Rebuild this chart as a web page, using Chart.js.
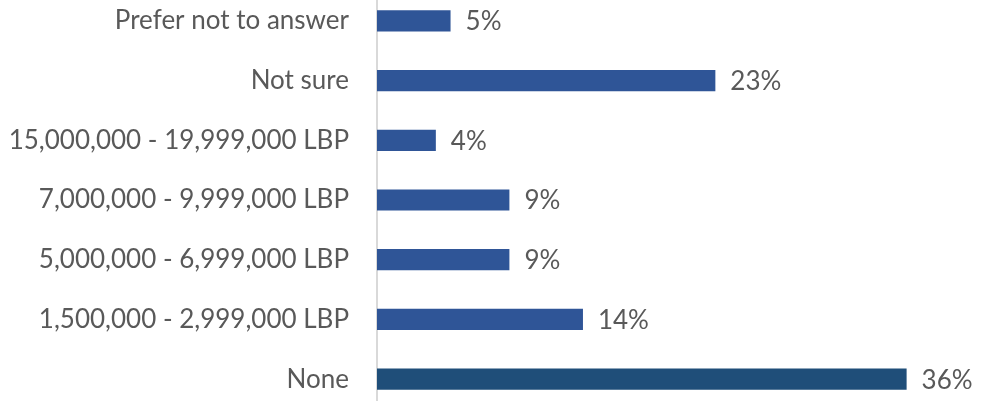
<!DOCTYPE html>
<html>
<head>
<meta charset="utf-8">
<script src="https://cdn.jsdelivr.net/npm/chart.js@4.4.0/dist/chart.umd.min.js"></script>
<style>
  html, body { margin: 0; padding: 0; background: #ffffff; overflow: hidden; width: 989px; height: 401px; }
  #c { position: absolute; left: 0; top: -9px; }
</style>
</head>
<body>
<canvas id="c" width="989" height="418" style="width:989px;height:418px"></canvas>
<script>
const categories = [
  "Prefer not to answer",
  "Not sure",
  "15,000,000 - 19,999,000 LBP",
  "7,000,000 - 9,999,000 LBP",
  "5,000,000 - 6,999,000 LBP",
  "1,500,000 - 2,999,000 LBP",
  "None"
];
const values = [5, 23, 4, 9, 9, 14, 36];
const barColors = ["#2F5597", "#2F5597", "#2F5597", "#2F5597", "#2F5597", "#2F5597", "#1F4E79"];

const FONT = "Lato, 'Open Sans', sans-serif";
const TEXT = "#595959";

const valueLabels = {
  id: "valueLabels",
  afterDatasetsDraw(chart) {
    const ctx = chart.ctx;
    const meta = chart.getDatasetMeta(0);
    ctx.save();
    ctx.font = "26px " + FONT;
    ctx.fillStyle = TEXT;
    ctx.textAlign = "left";
    ctx.textBaseline = "middle";
    meta.data.forEach((bar, i) => {
      ctx.fillText(values[i] + "%", bar.x + 15, bar.y + 1);
    });
    ctx.restore();
  }
};

new Chart(document.getElementById("c"), {
  type: "bar",
  data: {
    labels: categories,
    datasets: [{
      data: values,
      backgroundColor: barColors,
      borderWidth: 0,
      barPercentage: 0.355,
      categoryPercentage: 1
    }]
  },
  options: {
    indexAxis: "y",
    responsive: false,
    maintainAspectRatio: false,
    animation: false,
    layout: { padding: 0 },
    plugins: { legend: { display: false }, tooltip: { enabled: false } },
    scales: {
      x: {
        display: false,
        min: 0,
        max: 41.6
      },
      y: {
        grid: { display: false, drawTicks: false },
        border: { display: true, color: "#D9D9D9", width: 2 },
        ticks: { color: TEXT, font: { family: FONT, size: 26 }, padding: 28 },
        afterFit(scale) {
          scale.width = 377;
          scale.paddingTop = 0;
          scale.paddingBottom = 0;
        }
      }
    }
  },
  plugins: [valueLabels]
});
</script>
</body>
</html>
